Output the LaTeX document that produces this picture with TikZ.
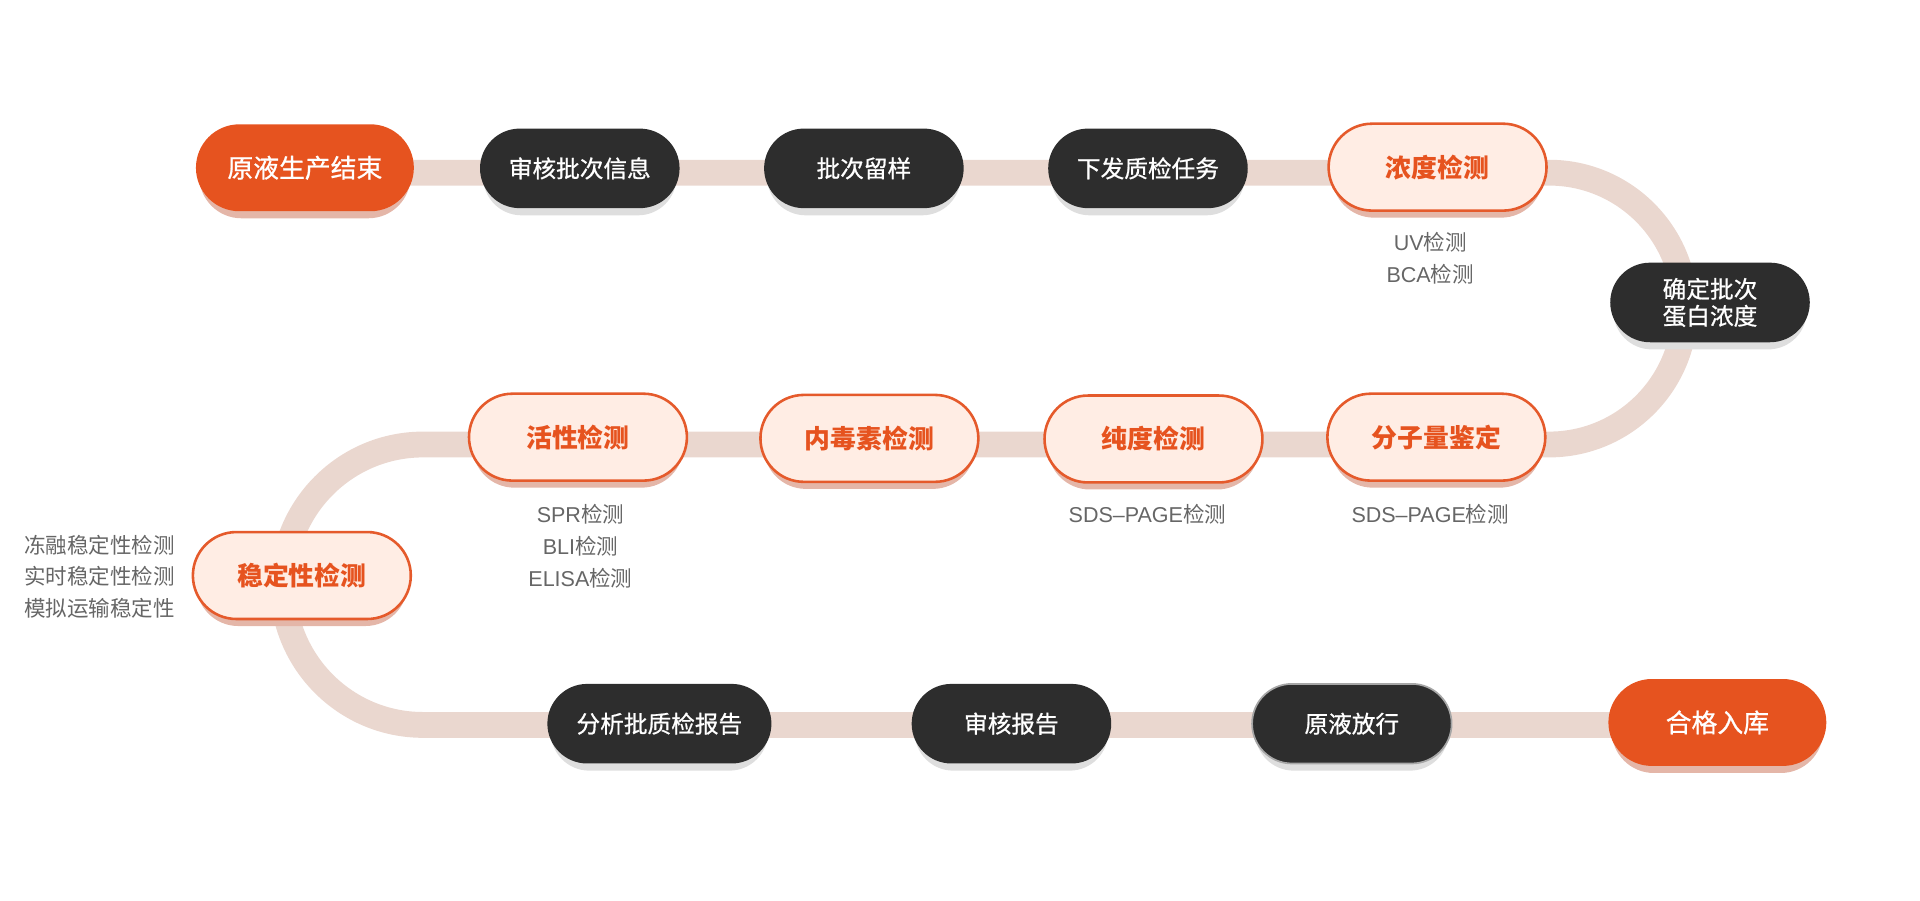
\documentclass[tikz,border=0pt]{standalone}
\usepackage{fontspec}
\setmainfont{Noto Sans CJK SC}
\newfontfamily\medfont[FakeBold=0.8]{Noto Sans CJK SC}
\newfontfamily\lat{Liberation Sans}
\usetikzlibrary{shapes.misc,shadows,backgrounds}
\definecolor{cOrange}{HTML}{E6531F}
\definecolor{cBorder}{HTML}{E55A2B}
\definecolor{cLight}{HTML}{FFEDE4}
\definecolor{cDark}{HTML}{2D2D2D}
\definecolor{cTrack}{HTML}{EAD7CF}
\definecolor{cGray}{HTML}{666666}
\definecolor{cOShadow}{HTML}{E4B6A8}
\definecolor{cDShadow}{HTML}{DEDEDE}
\begin{document}
\begin{tikzpicture}[x=0.02cm,y=-0.02cm,
  track/.style={draw=cTrack,line width=12pt},
  pill/.style={rounded rectangle,inner sep=0pt,align=center},
  ofill/.style={pill,fill=cOrange,text=white,font=\fontsize{12}{14}\selectfont\medfont,
    minimum width=3.56cm,minimum height=1.42cm,
    drop shadow={shadow xshift=0pt,shadow yshift=-4pt,shadow scale=0.97,fill=cOShadow,opacity=1}},
  olight/.style={pill,fill=cLight,draw=cBorder,line width=1.2pt,text=cOrange,
    font=\fontsize{12}{14}\selectfont\bfseries,
    minimum width=3.56cm,minimum height=1.42cm,
    drop shadow={shadow xshift=0pt,shadow yshift=-4pt,shadow scale=0.97,fill=cOShadow,opacity=1}},
  dark/.style={pill,fill=cDark,text=white,font=\fontsize{11}{12.5}\selectfont\medfont,
    minimum width=3.26cm,minimum height=1.3cm,
    drop shadow={shadow xshift=0pt,shadow yshift=-4pt,shadow scale=0.97,fill=cDShadow,opacity=1}},
  lab/.style={text=cGray,font=\fontsize{10}{14.8}\selectfont,inner sep=0pt,align=center}
]
\useasboundingbox (0,0) rectangle (1568,735);

% row 1
\node[ofill] (n1) at (249,137) {原液生产结束};
\node[dark] (n2) at (473.5,137.5) {审核批次信息};
\node[dark] (n3) at (705.5,137.5) {批次留样};
\node[dark] (n4) at (937.5,137.5) {下发质检任务};
\node[olight] (n5) at (1174,136.5) {浓度检测};
\node[dark] (n6) at (1396.5,247) {确定批次\\蛋白浓度};
% row 2
\node[olight] (n7) at (1173,357) {分子量鉴定};
\node[olight] (n8) at (942,358.5) {纯度检测};
\node[olight] (n9) at (710,358) {内毒素检测};
\node[olight] (n10) at (472,357) {活性检测};
\node[olight] (n11) at (246.5,470) {稳定性检测};
% row 3
\node[dark,minimum width=3.66cm] (n12) at (538.5,591) {分析批质检报告};
\node[dark] (n13) at (826,591) {审核报告};
\node[dark,draw=gray!70,line width=0.8pt] (n14) at (1104,591) {原液放行};
\node[ofill] (n15) at (1402.5,590) {合格入库};

% labels
\node[lab] (l5) at (1168,211) {{\lat UV}检测\\{\lat BCA}检测};
\node[lab] (l7) at (1168,420) {{\lat SDS–PAGE}检测};
\node[lab] (l8) at (937,420) {{\lat SDS–PAGE}检测};
\node[lab] (l10) at (474,446) {{\lat SPR}检测\\{\lat BLI}检测\\{\lat ELISA}检测};
\node[lab,anchor=east,align=right] (l11) at (143,471) {冻融稳定性检测\\实时稳定性检测\\模拟运输稳定性};

% track
\coordinate (r1) at (1265,141);
\coordinate (r2) at (345.5,363);
\begin{scope}[on background layer]
\draw[track] (n1.center |- r1) -- (r1)
  arc[start angle=-90,end angle=90,radius=111] -- (r2)
  arc[start angle=-90,end angle=-270,radius=114.5] -- (n15.center |- 0,592);
\end{scope}
\end{tikzpicture}
\end{document}
